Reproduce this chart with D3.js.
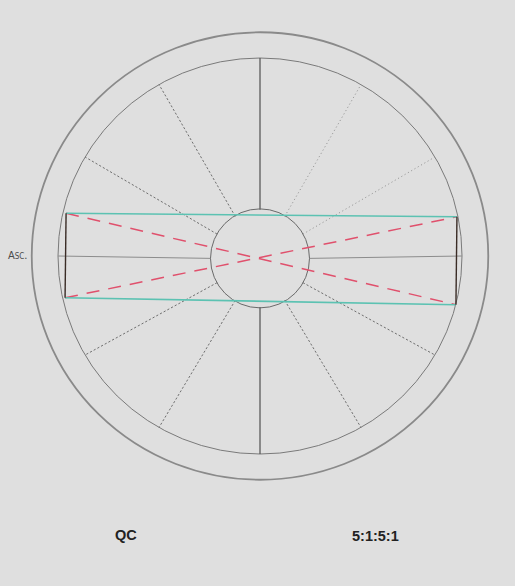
<!DOCTYPE html>
<html>
<head>
<meta charset="utf-8">
<script src="https://cdn.jsdelivr.net/npm/d3@7"></script>
<style>
  html, body { margin: 0; padding: 0; background: #dfdfdf; }
  svg { display: block; }
</style>
</head>
<body>
<div id="chart"></div>
<script>
// 图形数据（单位圆坐标，内圈半径 = 1）
const ringRadii = [1.13, 1.0]            // 外圈、内圈
const hubCenter = [0, -0.012]
const hubRadius = 0.245
const spokeAngles = [30, 60, 120, 150, 210, 240, 300, 330]  // 虚线分隔
const axisAngles = [0, 90, 180, 270]                         // 实线轴
const cornerX = [-0.960, 0.975, 0.970, -0.965]   // 左上、右上、右下、左下
const cornerY = [0.216, 0.198, -0.246, -0.211]
const labels = ['QC', '5:1:5:1']
const ascLabel = 'Asc.'

const width = 515, height = 586
const cx = 260, cy = 256

const svg = d3.select('#chart').append('svg')
  .attr('width', width)
  .attr('height', height)

svg.append('rect')
  .attr('width', width)
  .attr('height', height)
  .attr('fill', '#dfdfdf')

const x = d3.scaleLinear().domain([-1, 1]).range([cx - 202, cx + 202])
const y = d3.scaleLinear().domain([-1, 1]).range([cy + 198, cy - 198])

const g = svg.append('g').attr('id', 'wheelG')

// 外圈 + 内圈
g.selectAll('ellipse.ring')
  .data(ringRadii)
  .enter()
  .append('ellipse')
  .attr('class', 'ring')
  .attr('cx', x(0))
  .attr('cy', y(0))
  .attr('rx', d => x(d) - x(0))
  .attr('ry', d => y(0) - y(d))
  .attr('fill', 'none')
  .attr('stroke', (d, i) => i === 0 ? '#8a8a8a' : '#7a7a7a')
  .attr('stroke-width', (d, i) => i === 0 ? 1.8 : 1)

const rad = a => a * Math.PI / 180
const hubR = hubRadius

// 虚线分隔 (小圆到内圈)
g.selectAll('line.spoke')
  .data(spokeAngles)
  .enter()
  .append('line')
  .attr('class', 'spoke')
  .attr('x1', d => x(hubCenter[0] + hubR * Math.cos(rad(d))))
  .attr('y1', d => y(hubCenter[1] + hubR * Math.sin(rad(d))))
  .attr('x2', d => x(Math.cos(rad(d))))
  .attr('y2', d => y(Math.sin(rad(d))))
  .attr('stroke', d => (d === 30 || d === 60) ? '#9a9a9a' : '#6f6f6f')
  .attr('stroke-width', 1)
  .attr('stroke-dasharray', d => (d === 30 || d === 60) ? '1.2,2.6' : '2.2,2')

// 实线轴
g.selectAll('line.axis')
  .data(axisAngles)
  .enter()
  .append('line')
  .attr('class', 'axis')
  .attr('x1', d => x(hubCenter[0] + hubR * Math.cos(rad(d))))
  .attr('y1', d => y(hubCenter[1] + hubR * Math.sin(rad(d))))
  .attr('x2', d => x(Math.cos(rad(d))))
  .attr('y2', d => y(Math.sin(rad(d))))
  .attr('stroke', d => (d === 90 || d === 270) ? '#505050' : '#8c8c8c')
  .attr('stroke-width', d => (d === 90 || d === 270) ? 1.2 : 1)

// 中心小圆
g.append('ellipse')
  .attr('cx', x(hubCenter[0]))
  .attr('cy', y(hubCenter[1]))
  .attr('rx', x(hubR) - x(0))
  .attr('ry', x(hubR) - x(0))
  .attr('fill', 'none')
  .attr('stroke', '#6a6a6a')
  .attr('stroke-width', 1)

const corners = cornerX.map((v, i) => [x(v), y(cornerY[i])])

// 红色对角虚线
g.selectAll('line.diag')
  .data([[0, 2], [3, 1]])
  .enter()
  .append('line')
  .attr('class', 'diag')
  .attr('x1', d => corners[d[0]][0])
  .attr('y1', d => corners[d[0]][1])
  .attr('x2', d => corners[d[1]][0])
  .attr('y2', d => corners[d[1]][1])
  .attr('stroke', '#e0506c')
  .attr('stroke-width', 1.5)
  .attr('stroke-dasharray', '13,9')

// 矩形长边（青色）与短边（黑色）
g.selectAll('line.side')
  .data([[0, 1], [3, 2], [0, 3], [1, 2]])
  .enter()
  .append('line')
  .attr('class', 'side')
  .attr('x1', d => corners[d[0]][0])
  .attr('y1', d => corners[d[0]][1])
  .attr('x2', d => corners[d[1]][0])
  .attr('y2', d => corners[d[1]][1])
  .attr('stroke', (d, i) => i < 2 ? '#5cc2b2' : '#3a2c26')
  .attr('stroke-width', (d, i) => i < 2 ? 1.6 : 1.4)

// Asc. 标记
svg.append('text')
  .attr('x', 8)
  .attr('y', 259)
  .attr('font-family', 'Liberation Sans Narrow, DejaVu Sans Condensed, sans-serif')
  .attr('font-size', 11)
  .style('font-variant', 'small-caps')
  .attr('fill', '#4a4a4a')
  .text(ascLabel)

// 底部标注
svg.selectAll('text.caption')
  .data(labels)
  .enter()
  .append('text')
  .attr('class', 'caption')
  .attr('x', (d, i) => i === 0 ? 115 : 352)
  .attr('y', (d, i) => i === 0 ? 539.5 : 541)
  .attr('font-family', 'Liberation Sans, Arial, sans-serif')
  .attr('font-weight', 'bold')
  .attr('font-size', 14.5)
  .attr('fill', '#222')
  .text(d => d)
</script>
</body>
</html>
